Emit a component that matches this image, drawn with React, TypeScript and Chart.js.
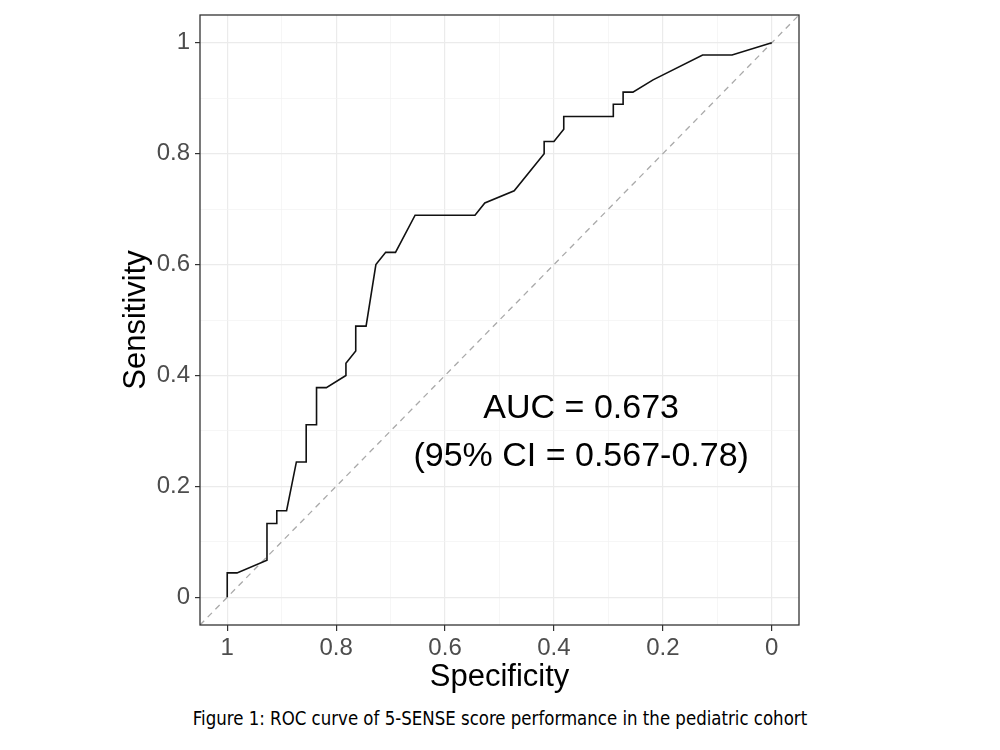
import React, { useEffect, useRef } from 'react';
import { Chart, registerables } from 'chart.js';

Chart.register(...registerables);

// ROC curve points
const specificity = [
  1, 1, 0.982, 0.927, 0.927, 0.909, 0.909, 0.891, 0.873, 0.855, 0.855, 0.836, 0.836,
  0.818, 0.782, 0.782, 0.764, 0.764, 0.745, 0.727, 0.709, 0.691, 0.655, 0.545, 0.527,
  0.473, 0.418, 0.418, 0.4, 0.382, 0.382, 0.291, 0.291, 0.273, 0.273, 0.255, 0.218,
  0.127, 0.073, 0,
];
const sensitivity = [
  0, 0.044, 0.044, 0.067, 0.133, 0.133, 0.156, 0.156, 0.244, 0.244, 0.311, 0.311, 0.378,
  0.378, 0.4, 0.422, 0.444, 0.489, 0.489, 0.6, 0.622, 0.622, 0.689, 0.689, 0.711,
  0.733, 0.8, 0.822, 0.822, 0.844, 0.867, 0.867, 0.889, 0.889, 0.911, 0.911, 0.933,
  0.978, 0.978, 1,
];

// Chance diagonal spanning the panel
const diagX = [1.05, -0.05];
const diagY = [-0.05, 1.05];

const axisMin = -0.05;
const axisMax = 1.05;
const tickValues = [0, 0.1, 0.2, 0.3, 0.4, 0.5, 0.6, 0.7, 0.8, 0.9, 1];
const majorLabels: Record<string, string> = { '0': '0', '0.2': '0.2', '0.4': '0.4', '0.6': '0.6', '0.8': '0.8', '1': '1' };

const xTitle = 'Specificity';
const yTitle = 'Sensitivity';
const aucLines = ['AUC = 0.673', '(95% CI = 0.567-0.78)'];
const aucX = 0.35;
const aucY = [0.341, 0.253];
const caption = 'Figure 1: ROC curve of 5-SENSE score performance in the pediatric cohort';

const FONT = '"Liberation Sans", Arial, sans-serif';

const keyOf = (v: number) => String(Math.round(v * 10) / 10);
const isMajor = (v: number) => Math.round(v * 10) % 2 === 0;

export default function App() {
  const ref = useRef<HTMLCanvasElement | null>(null);

  useEffect(() => {
    document.body.style.margin = '0';
    const canvas = ref.current;
    if (!canvas) return;

    const annotationPlugin = {
      id: 'rocExtras',
      afterDatasetsDraw(chart: any) {
        const { ctx, scales } = chart;
        ctx.save();
        ctx.fillStyle = '#000';
        ctx.font = `34px ${FONT}`;
        ctx.textAlign = 'center';
        ctx.textBaseline = 'middle';
        aucLines.forEach((t, i) => {
          ctx.fillText(t, scales.x.getPixelForValue(aucX), scales.y.getPixelForValue(aucY[i]));
        });
        ctx.restore();
      },
      afterDraw(chart: any) {
        const { ctx, chartArea } = chart;
        ctx.save();
        ctx.strokeStyle = '#333333';
        ctx.lineWidth = 1.3;
        ctx.strokeRect(chartArea.left, chartArea.top, chartArea.right - chartArea.left, chartArea.bottom - chartArea.top);
        ctx.restore();
      },
    };

    const gridCfg = {
      color: (c: any) => (c.tick && isMajor(c.tick.value) ? '#ebebeb' : '#f2f2f2'),
      lineWidth: (c: any) => (c.tick && isMajor(c.tick.value) ? 1.2 : 0.7),
      tickLength: 6,
      tickWidth: 1.2,
      tickColor: (c: any) => (c.tick && isMajor(c.tick.value) ? '#333333' : 'rgba(0,0,0,0)'),
    };

    const tickCfg = {
      autoSkip: false,
      maxRotation: 0,
      color: '#4d4d4d',
      font: { family: FONT, size: 24 },
      callback: (v: any) => (isMajor(Number(v)) ? majorLabels[keyOf(Number(v))] : ''),
    };

    const zeroPad = (s: any) => {
      s.paddingTop = 0;
      s.paddingBottom = 0;
      s.paddingLeft = 0;
      s.paddingRight = 0;
    };

    const chart = new Chart(canvas, {
      type: 'scatter',
      data: {
        datasets: [
          {
            data: specificity.map((s, i) => ({ x: s, y: sensitivity[i] })),
            showLine: true,
            borderColor: '#111111',
            borderWidth: 1.6,
            pointRadius: 0,
            fill: false,
          },
          {
            data: diagX.map((s, i) => ({ x: s, y: diagY[i] })),
            showLine: true,
            borderColor: '#a9a9a9',
            borderWidth: 1.3,
            borderDash: [6, 5],
            pointRadius: 0,
            fill: false,
          },
        ],
      },
      options: {
        responsive: false,
        animation: false,
        layout: { padding: { left: 0, right: 201, top: 15, bottom: 0 } },
        plugins: { legend: { display: false }, tooltip: { enabled: false } },
        scales: {
          x: {
            type: 'linear',
            reverse: true,
            min: axisMin,
            max: axisMax,
            afterBuildTicks: (s: any) => {
              s.ticks = tickValues.map((v) => ({ value: v }));
            },
            afterFit: (s: any) => {
              s.height = 75;
              zeroPad(s);
            },
            grid: gridCfg,
            border: { display: false },
            ticks: { ...tickCfg, padding: 3 },
            title: {
              display: true,
              text: xTitle,
              color: '#000',
              font: { family: FONT, size: 31 },
              padding: { top: 0, bottom: 4 },
            },
          },
          y: {
            type: 'linear',
            min: axisMin,
            max: axisMax,
            afterBuildTicks: (s: any) => {
              s.ticks = tickValues.map((v) => ({ value: v }));
            },
            afterFit: (s: any) => {
              s.width = 200;
              zeroPad(s);
            },
            grid: { ...gridCfg, tickLength: 5 },
            border: { display: false },
            ticks: { ...tickCfg, padding: 5 },
            title: {
              display: true,
              text: yTitle,
              color: '#000',
              font: { family: FONT, size: 31 },
              padding: { top: 118, bottom: 0 },
            },
          },
        },
      } as any,
      plugins: [annotationPlugin],
    });

    return () => chart.destroy();
  }, []);

  return (
    <div style={{ position: 'relative', width: 1000, height: 750, background: '#fff' }}>
      <canvas ref={ref} width={1000} height={700} style={{ width: 1000, height: 700, display: 'block' }} />
      <div
        style={{
          position: 'absolute',
          top: 708,
          left: 0,
          width: 1000,
          textAlign: 'center',
          fontFamily: '"DejaVu Sans Condensed", "Liberation Sans Narrow", sans-serif',
          fontSize: 20,
          lineHeight: '21px',
          color: '#000',
          transform: 'scaleX(0.923)',
          transformOrigin: '500px 50%',
        }}
      >
        {caption}
      </div>
    </div>
  );
}
